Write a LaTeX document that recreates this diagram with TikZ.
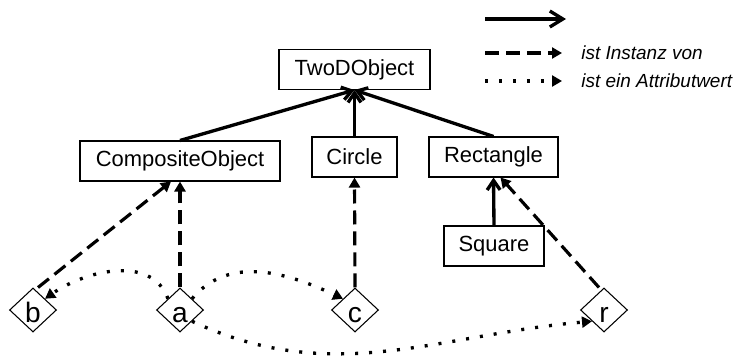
\documentclass[tikz,border=0pt]{standalone}
\usepackage{fontspec}
\setmainfont{Liberation Sans}
\usetikzlibrary{arrows.meta, shapes.geometric, positioning}

\begin{document}
\begin{tikzpicture}[x=0.02cm,y=0.02cm,
	cls/.style={draw, line width=0.6pt, minimum height=0.8cm, inner sep=0pt, font=\fontsize{12.5}{15}\selectfont},
	inst/.style={draw, diamond, line width=0.6pt, minimum width=0.94cm, minimum height=0.88cm, inner sep=0pt, text height=0.48cm, text depth=0pt, fill=white, font=\fontsize{16}{19}\selectfont},
	isa/.style={-{Straight Barb[length=0.19cm,width=0.26cm]}, line width=1.9pt},
	instof/.style={-{Triangle[length=0.2cm,width=0.22cm]}, line width=1.8pt, dash pattern=on 0.28cm off 0.14cm},
	attval/.style={-{Triangle[length=0.2cm,width=0.22cm]}, line width=1.9pt, dash pattern=on 0.06cm off 0.22cm},
	legtext/.style={anchor=west, inner sep=0pt, font=\fontsize{10.8}{13}\selectfont\itshape}]
	\useasboundingbox (0,0) rectangle (740,-355);

	\node[cls, minimum width=3.02cm] (twod) at (354.5,-69.5) {TwoDObject};
	\node[cls, minimum width=4cm] (comp) at (180,-161) {CompositeObject};
	\node[cls, minimum width=1.7cm] (circ) at (354.5,-157) {Circle};
	\node[cls, minimum width=2.58cm] (rect) at (493.5,-157) {Rectangle};
	\node[cls, minimum width=2cm] (squ) at (494,-246) {Square};

	\node[inst] (b) at (33,-310) {b};
	\node[inst] (a) at (180,-310) {a};
	\node[inst] (c) at (355,-310) {c};
	\node[inst] (r) at (604,-310) {r};

	\draw[isa] (comp.north) -- (twod.south);
	\draw[isa] (circ.north) -- (twod.south);
	\draw[isa] (rect.north) -- (twod.south);
	\draw[isa] (squ.north) -- (rect.south);

	\draw[instof] ([xshift=0.1cm]b.north) -- ([xshift=-0.18cm]comp.south);
	\draw[instof] (a.north) -- (comp.south);
	\draw[instof] (c.north) -- (circ.south);
	\draw[instof] ([xshift=-0.1cm]r.north) -- ([xshift=0.14cm]rect.south);

	\draw[attval] (a.north west) to[out=110,in=35] (b.north east);
	\draw[attval] (a.north east) to[out=50,in=155] (c.north west);
	\draw[attval] (a.south east) to[out=-25,in=185] (r.south west);

	\coordinate (isaA) at (485,-19);
	\coordinate (isaB) at (566,-19);
	\coordinate (instA) at (485,-53);
	\coordinate (instB) at (562,-53);
	\coordinate (attA) at (485,-81);
	\coordinate (attB) at (562,-81);
	\draw[isa, -{Straight Barb[length=0.26cm,width=0.32cm]}] (isaA) -- (isaB);
	\draw[instof] (instA) -- (instB);
	\draw[attval] (attA) -- (attB);
	\node[legtext, right=0.38cm of instB] (instLbl) {ist Instanz von};
	\node[legtext, right=0.38cm of attB] (attLbl) {ist ein Attributwert};
\end{tikzpicture}
\end{document}
